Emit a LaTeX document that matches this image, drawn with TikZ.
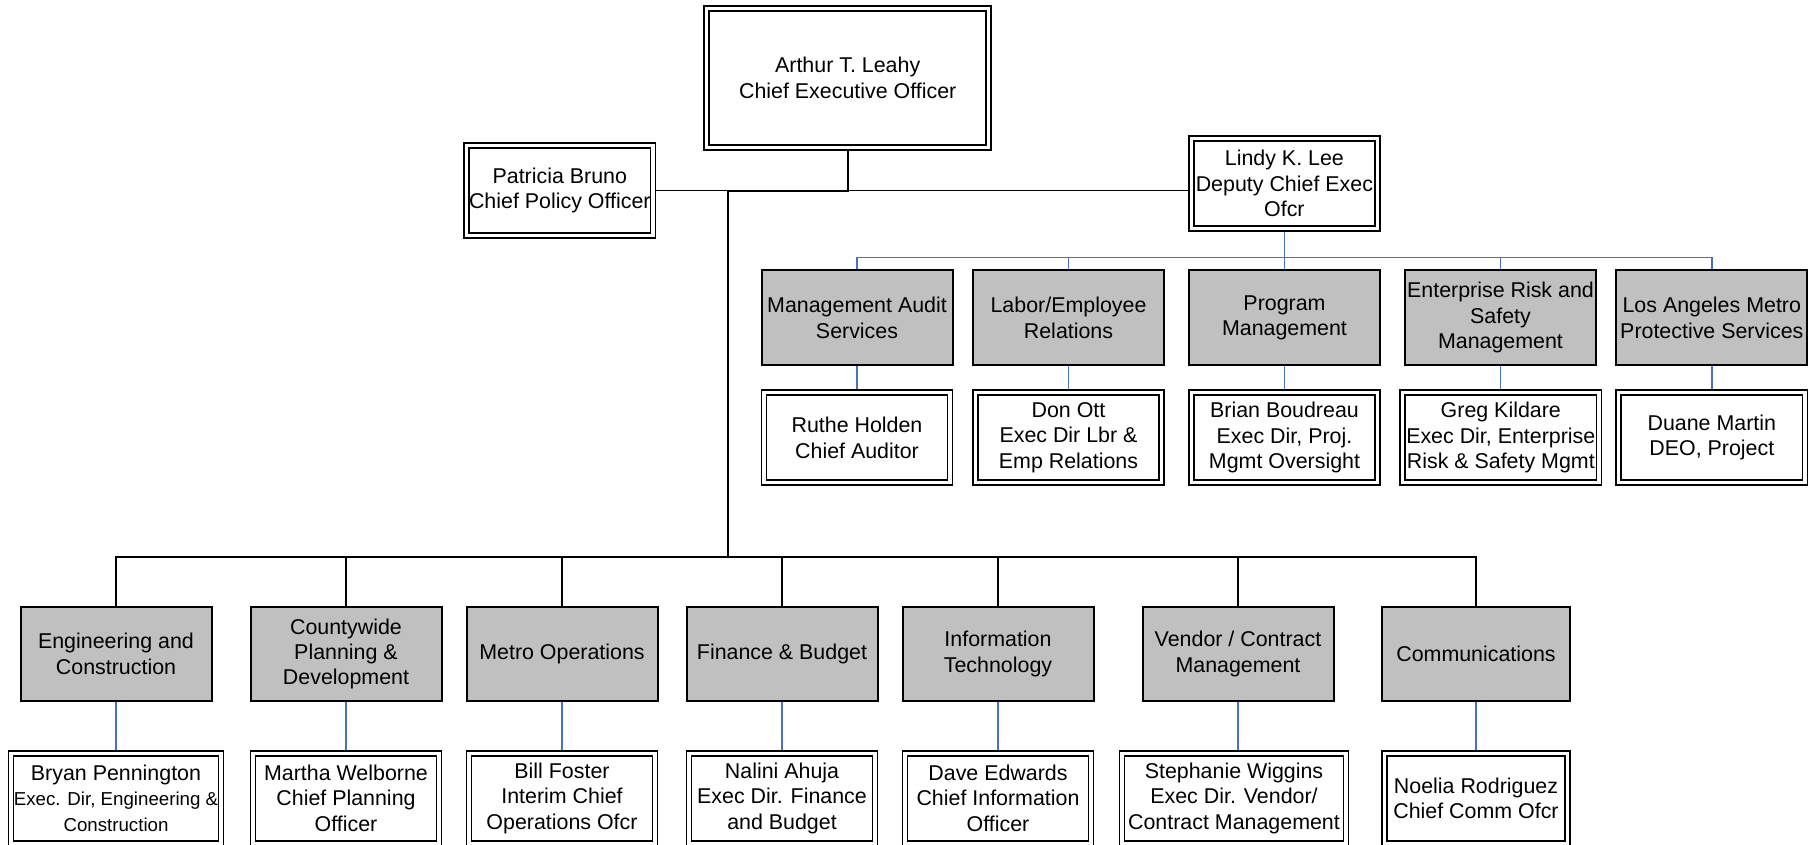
\documentclass[tikz,border=0pt]{standalone}
\usepackage{fontspec}
\setmainfont{Liberation Sans}
\usetikzlibrary{backgrounds}
\definecolor{boxgray}{HTML}{C0C0C0}
\definecolor{linkblue}{HTML}{4472C4}
\tikzset{
  base/.style={align=center, inner sep=0pt, font=\fontsize{10.7pt}{12.7pt}\selectfont},
  dept/.style={base, draw, line width=1pt, fill=boxgray, minimum width=95.5pt, minimum height=47.35pt},
  person/.style={base, draw, double, double distance=1.65pt, line width=0.85pt, fill=white, minimum width=93.1pt, minimum height=44.95pt},
  trunk/.style={line width=1pt},
  thinlink/.style={line width=0.55pt},
  bluelink/.style={linkblue, line width=0.7pt},
}
\begin{document}
\begin{tikzpicture}[x=0.5pt,y=-0.5pt]
\useasboundingbox (0,0) rectangle (1817,845);
% top
\node[person, minimum width=140.95pt, minimum height=69.2pt] (ceo) at (847.7,78) {Arthur T. Leahy\\Chief Executive Officer};
\node[person] (pat) at (559.8,190.7) {Patricia Bruno\\Chief Policy Officer};
\node[person] (lin) at (1284.4,183.7) {Lindy K. Lee\\Deputy Chief Exec\\Ofcr};
% row 1
\node[dept] (mas) at (857,317.7) {Management Audit\\Services};
\node[dept] (lab) at (1068.5,317.7) {Labor/Employee\\Relations};
\node[dept] (prg) at (1284.5,317.7) {Program\\Management};
\node[dept] (ers) at (1500.5,317.7) {Enterprise Risk and\\Safety\\Management};
\node[dept] (lam) at (1711.8,317.7) {Los Angeles Metro\\Protective Services};
\node[person] (ruthe) at (857,437.7) {Ruthe Holden\\Chief Auditor};
\node[person] (don) at (1068.5,437.7) {Don Ott\\Exec Dir Lbr \&\\Emp Relations};
\node[person] (brian) at (1284.5,437.7) {Brian Boudreau\\Exec Dir, Proj.\\Mgmt Oversight};
\node[person, minimum width=98.1pt] (greg) at (1500.8,437.7) {Greg Kildare\\Exec Dir, Enterprise\\Risk \& Safety Mgmt};
\node[person] (duane) at (1711.8,437.7) {Duane Martin\\DEO, Project};
% row 2
\node[dept] (eng) at (116,654) {Engineering and\\Construction};
\node[dept] (cty) at (346,654) {Countywide\\Planning \&\\Development};
\node[dept] (ops) at (562,654) {Metro Operations};
\node[dept] (fin) at (782,654) {Finance \& Budget};
\node[dept] (it) at (998,654) {Information\\Technology};
\node[dept] (ven) at (1238,654) {Vendor / Contract\\Management};
\node[dept, minimum width=94pt] (com) at (1476,654) {Communications};
\node[person, minimum width=104.9pt] (bryan) at (116,798.2) {Bryan Pennington\\\fontsize{9.35pt}{11.5pt}\selectfont Exec. Dir, Engineering \&\\\fontsize{9.35pt}{11.5pt}\selectfont Construction};
\node[person] (martha) at (346,798.2) {Martha Welborne\\Chief Planning\\Officer};
\node[person] (bill) at (562,798.2) {Bill Foster\\Interim Chief\\Operations Ofcr};
\node[person] (nalini) at (782,798.2) {Nalini Ahuja\\Exec Dir. Finance\\and Budget};
\node[person] (dave) at (998,798.2) {Dave Edwards\\Chief Information\\Officer};
\node[person, minimum width=112.1pt] (steph) at (1234,798.2) {Stephanie Wiggins\\Exec Dir. Vendor/\\Contract Management};
\node[person, minimum width=91.6pt] (noelia) at (1476,798.2) {Noelia Rodriguez\\Chief Comm Ofcr};
% junctions
\coordinate (j1) at (728,190.7);
\coordinate (bus) at (728,557.3);
\coordinate (bbus) at (1284.4,257.5);
\begin{pgfonlayer}{background}
\draw[thinlink] (pat.east) -- (pat.east -| lin.west);
\draw[trunk] (ceo.south) |- (j1) -- (bus);
\draw[trunk] (eng.north) |- (bus) -| (com.north);
\foreach \n in {cty,ops,fin,it,ven} \draw[trunk] (\n.north) -- (\n.north |- bus);
\draw[bluelink] (lin.south) -- (bbus);
\draw[bluelink] (mas.north) |- (bbus) -| (lam.north);
\foreach \n in {lab,prg,ers} \draw[bluelink] (\n.north) -- (\n.north |- bbus);
\foreach \a/\b in {mas/ruthe,lab/don,prg/brian,ers/greg,lam/duane,eng/bryan,cty/martha,ops/bill,fin/nalini,it/dave,ven/steph,com/noelia}
  \draw[bluelink] (\a.south) -- (\a.south |- \b.north);
\end{pgfonlayer}
\end{tikzpicture}
\end{document}
